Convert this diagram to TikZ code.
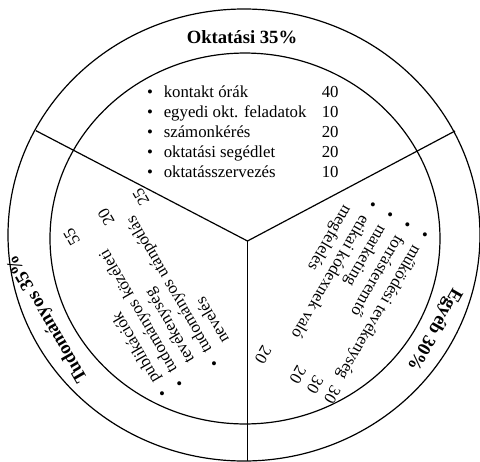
\documentclass[tikz,border=0pt]{standalone}
\usepackage{fontspec}
\setmainfont{Liberation Serif}
\begin{document}
\begin{tikzpicture}[
    x=0.75pt, y=0.75pt,
    ring/.style={draw=black, line width=0.9pt},
    spoke/.style={draw=black, line width=0.9pt},
    sectitle/.style={font=\fontsize{14}{17}\selectfont\bfseries, inner sep=0pt},
    bul/.style={anchor=base, inner sep=0pt, font=\fontsize{12.6}{15}\selectfont},
    item/.style={anchor=base west, inner sep=0pt, font=\fontsize{12.6}{15}\selectfont},
    num/.style={anchor=base west, inner sep=0pt, font=\fontsize{12.6}{15}\selectfont}
]
\useasboundingbox (-247.5,-221) rectangle (232.5,241);

% Rings
\draw[ring] (-3.5,6) ellipse [x radius=177pt, y radius=169.5pt];
\draw[ring] (-2.5,2.5) ellipse [x radius=146.25pt, y radius=139.1pt];

% Spokes
\coordinate (hub) at (0,0);
\coordinate (endL) at (-211.5,110.3);
\coordinate (endR) at (207.5,110);
\coordinate (endB) at (0,-220);
\draw[spoke] (hub) -- (endL);
\draw[spoke] (hub) -- (endR);
\draw[spoke] (hub) -- (endB);

% Oktatasi sector
\node[sectitle] (oktT) at (-5.5,204) {Oktatási 35\%};
\node[bul] (okt1b) at (-97.5,143.5) {\textbullet};
\node[bul] (okt2b) at (-97.5,123.5) {\textbullet};
\node[bul] (okt3b) at (-97.5,103.5) {\textbullet};
\node[bul] (okt4b) at (-97.5,83.5) {\textbullet};
\node[bul] (okt5b) at (-97.5,63.5) {\textbullet};
\node[item] (okt1) at (-84,143.5) {kontakt órák};
\node[item] (okt2) at (-84,123.5) {egyedi okt. feladatok};
\node[item] (okt3) at (-84,103.5) {számonkérés};
\node[item] (okt4) at (-84,83.5) {oktatási segédlet};
\node[item] (okt5) at (-84,63.5) {oktatásszervezés};
\node[num] (okt1n) at (74,143.5) {40};
\node[num] (okt2n) at (74,123.5) {10};
\node[num] (okt3n) at (74,103.5) {20};
\node[num] (okt4n) at (74,83.5) {20};
\node[num] (okt5n) at (74,63.5) {10};

% Tudomanyos sector
\begin{scope}[rotate=120, transform shape]
\node[sectitle] (tudT) at (32.5,212) {Tudományos 35\%};
\node[bul] (tud1b) at (-90,145) {\textbullet};
\node[bul] (tud2b) at (-90,125) {\textbullet};
\node[bul] (tud3b) at (-90,85) {\textbullet};
\node[item] (tud1) at (-76.5,145) {publikációk};
\node[item] (tud2) at (-76.5,125) {tudományos közéleti};
\node[item] (tud2c) at (-76.5,105) {tevékenység};
\node[item] (tud3) at (-76.5,85) {tudományos utánpótlás};
\node[item] (tud3c) at (-76.5,65) {nevelés};
\node[num] (tud1n) at (82.5,145) {55};
\node[num] (tud2n) at (82.5,105) {20};
\node[num] (tud3n) at (82.5,65) {25};
\end{scope}

% Egyeb sector
\begin{scope}[rotate=240, transform shape]
\node[sectitle] (egyT) at (-17,205.5) {Egyéb 30\%};
\node[bul] (egy1b) at (-94,145) {\textbullet};
\node[bul] (egy2b) at (-94,125) {\textbullet};
\node[bul] (egy3b) at (-94,105) {\textbullet};
\node[bul] (egy4b) at (-94,85) {\textbullet};
\node[item] (egy1) at (-80.5,145) {működési tevékenység};
\node[item] (egy2) at (-80.5,125) {forrásteremtő};
\node[item] (egy3) at (-80.5,105) {marketing};
\node[item] (egy4) at (-80.5,85) {etikai kódexnek való};
\node[item] (egy4c) at (-80.5,65) {megfelelés};
\node[num] (egy1n) at (82,145) {30};
\node[num] (egy2n) at (82,125) {30};
\node[num] (egy3n) at (82,105) {20};
\node[num] (egy4n) at (82,65) {20};
\end{scope}

\end{tikzpicture}
\end{document}
